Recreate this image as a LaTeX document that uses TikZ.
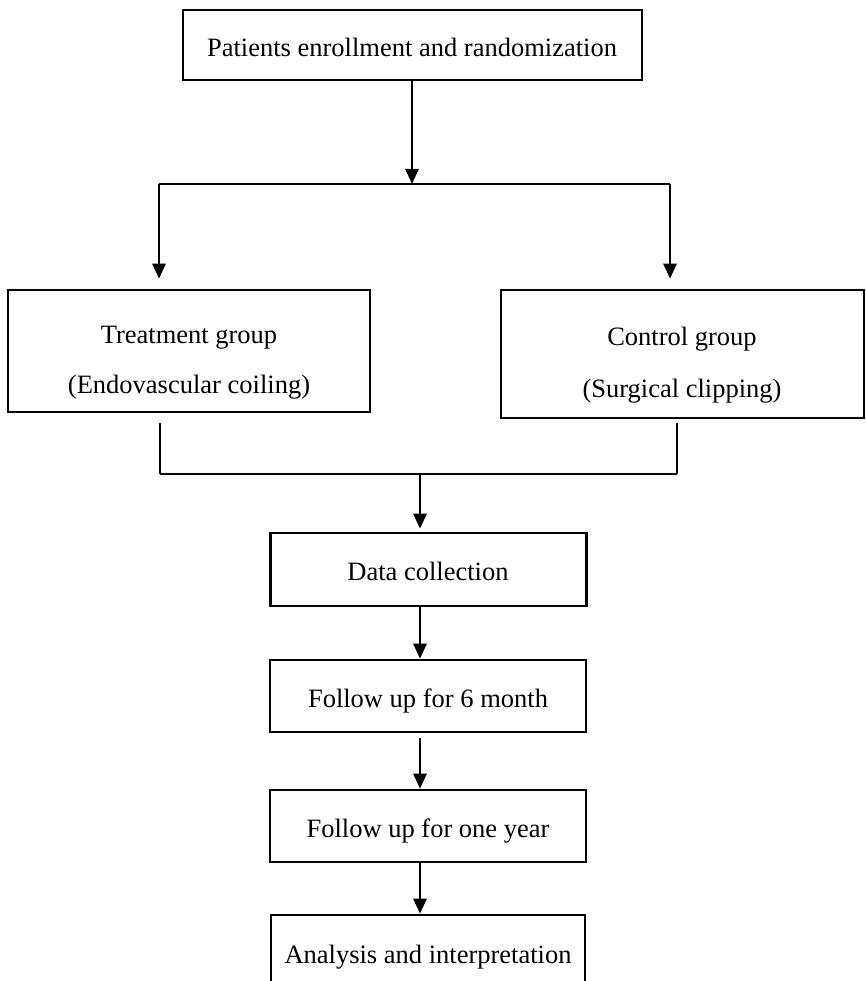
\documentclass[tikz,border=0pt]{standalone}
\usepackage{fontspec}
\setmainfont{Liberation Serif}
\usetikzlibrary{arrows.meta}
\begin{document}
\begin{tikzpicture}[x=1pt,y=-1pt,
  box/.style={draw=black,line width=2.6pt,rectangle,inner sep=0pt},
  lbl/.style={anchor=base,inner sep=0pt,font=\fontsize{26.5}{30}\selectfont},
  conn/.style={line width=2.6pt},
  arr/.style={line width=2.6pt,-{Triangle[length=15pt,width=13pt]}}]
\useasboundingbox (0,0) rectangle (866,981);
\clip (0,0) rectangle (866,981);
\fill[white] (0,0) rectangle (866,981);
% boxes
\node[box,minimum width=459pt,minimum height=70pt] (top) at (412.5,45) {};
\node[box,minimum width=362pt,minimum height=122pt] (left) at (189,351) {};
\node[box,minimum width=363pt,minimum height=128pt] (right) at (682.5,354) {};
\node[box,minimum width=316pt,minimum height=73pt] (data) at (428.5,569.5) {};
\node[box,minimum width=316pt,minimum height=72pt] (six) at (428,696) {};
\node[box,minimum width=316pt,minimum height=72pt] (year) at (428,826) {};
\node[box,minimum width=314pt,minimum height=100pt] (anal) at (428,965) {};
% texts
\node[lbl] (ttop) at (412,57) {Patients enrollment and randomization};
\node[lbl] (tl1) at (189,343) {Treatment group};
\node[lbl] (tl2) at (189,393) {(Endovascular coiling)};
\node[lbl] (tr1) at (682,345) {Control group};
\node[lbl] (tr2) at (682,397) {(Surgical clipping)};
\node[lbl] (tdata) at (428,580) {Data collection};
\node[lbl] (tsix) at (428,707) {Follow up for 6 month};
\node[lbl] (tyear) at (428,837) {Follow up for one year};
\node[lbl] (tanal) at (428,963) {Analysis and interpretation};
% split connectors
\coordinate (sm) at (412,184);
\coordinate (sl) at (159,184);
\coordinate (sr) at (670,184);
\draw[arr] (top.south -| sm) -- (sm);
\draw[conn] (sl) -- (sr);
\draw[arr,shorten >=10pt] (sl) -- (sl |- left.north);
\draw[arr,shorten >=10pt] (sr) -- (sr |- right.north);
% join connectors
\coordinate (jl) at (160,474);
\coordinate (jr) at (677,474);
\coordinate (jm) at (420,474);
\draw[conn,shorten <=10pt] (jl |- left.south) -- (jl);
\draw[conn,shorten <=4pt] (jr |- right.south) -- (jr);
\draw[conn] (jl) -- (jr);
\draw[arr,shorten >=3pt] (jm) -- (jm |- data.north);
% chain
\draw[arr] (data.south -| jm) -- (jm |- six.north);
\draw[arr,shorten <=5pt] (six.south -| jm) -- (jm |- year.north);
\draw[arr] (year.south -| jm) -- (jm |- anal.north);
\end{tikzpicture}
\end{document}
